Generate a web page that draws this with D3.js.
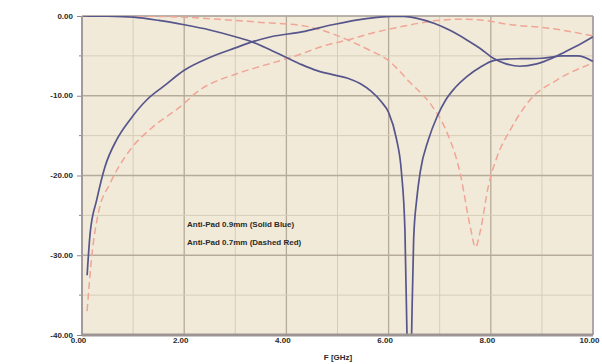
<!DOCTYPE html>
<html>
<head>
<meta charset="utf-8">
<script src="https://cdn.jsdelivr.net/npm/d3@7"></script>
<style>
  body { margin: 0; background: #fff; }
  svg { display: block; font-family: "Liberation Sans", Arial, sans-serif; }
</style>
</head>
<body>
<svg id="chart" width="602" height="364"></svg>
<script>
// values, [F GHz, dB]
const blueS21 = [[0,0],[0.5,-0.03],[1,-0.15],[1.5,-0.55],[2,-1.1],[2.5,-1.75],[3,-2.6],[3.33,-3.25],[3.7,-4.3],[4,-5.2],[4.3,-6.1],[4.6,-6.85],[4.9,-7.35],[5.2,-7.8],[5.45,-8.5],[5.65,-9.4],[5.85,-10.7],[6,-12.1],[6.15,-15.3],[6.25,-19.5],[6.32,-27],[6.36,-40],[6.4,-58],[6.45,-40],[6.49,-28],[6.55,-23],[6.62,-19.5],[6.78,-15.5],[6.95,-12.6],[7.12,-10.5],[7.3,-9],[7.53,-7.6],[7.8,-6.4],[8.05,-5.6],[8.3,-5.4],[8.6,-5.35],[9,-5.3],[9.4,-5],[9.7,-5],[10,-5.7]];
const blueS11 = [[0.1,-32.5],[0.16,-27.2],[0.29,-23],[0.45,-18.9],[0.68,-15.5],[0.94,-13],[1.27,-10.5],[1.6,-8.8],[2,-6.8],[2.5,-5.2],[3,-4],[3.33,-3.25],[3.7,-2.6],[4.3,-2],[4.9,-1.1],[5.6,-0.3],[6.05,-0.05],[6.3,-0.05],[6.56,-0.3],[6.9,-0.95],[7.2,-1.8],[7.53,-3],[7.8,-4.1],[8.05,-5.3],[8.3,-6],[8.57,-6.3],[8.9,-6],[9.2,-5.3],[9.45,-4.5],[9.7,-3.7],[10,-2.6]];
const redS21 = [[0,0],[1,-0.02],[1.5,-0.05],[2,-0.15],[2.5,-0.35],[3,-0.55],[3.5,-0.8],[4,-1],[4.4,-1.3],[4.8,-2],[5.2,-3],[5.6,-4.2],[6,-5.6],[6.4,-8.2],[6.85,-11.3],[7.1,-14],[7.4,-19.7],[7.6,-26.5],[7.7,-29],[7.8,-26.8],[7.95,-21.4],[8.12,-17.7],[8.38,-14.3],[8.77,-10.5],[9.3,-8],[10,-5.9]];
const redS11 = [[0.1,-37],[0.19,-30.2],[0.32,-24.7],[0.55,-21],[0.94,-16.8],[1.39,-13.9],[1.92,-11.4],[2.3,-9.3],[3,-7.3],[3.5,-6.3],[3.93,-5.5],[4.27,-4.8],[4.7,-3.8],[5.2,-3],[5.7,-2.1],[6.2,-1.4],[6.6,-0.9],[7.06,-0.5],[7.5,-0.4],[7.8,-0.5],[8.4,-1.1],[9.1,-1.5],[9.6,-2],[10,-2.5]];

const xTicks = [0, 2, 4, 6, 8, 10];
const yTicks = [0, -10, -20, -30, -40];
const legendLines = ["Anti-Pad 0.9mm (Solid Blue)", "Anti-Pad 0.7mm (Dashed Red)"];

const W = 602, H = 364;
const m = { top: 16, right: 9, bottom: 29, left: 82 };
const fmt = d => d.toFixed(2); // plain hyphen minus like the original

const svg = d3.select("#chart");
const x = d3.scaleLinear().domain([0, 10]).range([m.left, W - m.right]);
const y = d3.scaleLinear().domain([-40, 0]).range([H - m.bottom, m.top]);

svg.append("defs").append("clipPath").attr("id", "plot")
   .append("rect")
   .attr("x", m.left).attr("y", m.top)
   .attr("width", W - m.left - m.right).attr("height", H - m.top - m.bottom);

svg.append("rect")
   .attr("x", m.left).attr("y", m.top)
   .attr("width", W - m.left - m.right).attr("height", H - m.top - m.bottom)
   .attr("fill", "#f2ead8");

// grid, minor every 1 GHz / 5 dB
d3.range(0, 10.01, 1).forEach(v =>
   svg.append("line")
      .attr("x1", x(v)).attr("x2", x(v))
      .attr("y1", m.top).attr("y2", H - m.bottom)
      .attr("stroke", v % 2 === 0 ? "#b5ab98" : "#d6cdb9")
      .attr("stroke-width", v % 2 === 0 ? 1.3 : 1)
);
d3.range(-40, 0.01, 5).forEach(v =>
   svg.append("line")
      .attr("x1", m.left).attr("x2", W - m.right)
      .attr("y1", y(v)).attr("y2", y(v))
      .attr("stroke", v % 10 === 0 ? "#b5ab98" : "#d6cdb9")
      .attr("stroke-width", v % 10 === 0 ? 1.3 : 1)
);

// frame
svg.append("line").attr("x1", m.left).attr("x2", W - m.right).attr("y1", m.top).attr("y2", m.top)
   .attr("stroke", "#aaa4a4").attr("stroke-width", 1.2);
svg.append("line").attr("x1", W - m.right).attr("x2", W - m.right).attr("y1", m.top).attr("y2", H - m.bottom)
   .attr("stroke", "#aaa4a4").attr("stroke-width", 1.8);

const line = d3.line()
   .x(d => x(d[0]))
   .y(d => y(d[1]))
   .curve(d3.curveMonotoneX);

const curves = svg.append("g").attr("clip-path", "url(#plot)");
[redS21, redS11].forEach(s =>
   curves.append("path").datum(s)
      .attr("d", line)
      .attr("fill", "none")
      .attr("stroke", "#f0a596")
      .attr("stroke-width", 1.5)
      .attr("stroke-dasharray", "7,4")
);
[blueS21, blueS11].forEach(s =>
   curves.append("path").datum(s)
      .attr("d", line)
      .attr("fill", "none")
      .attr("stroke", "#56558c")
      .attr("stroke-width", 1.7)
);

// axes
const yAxis = svg.append("g")
   .attr("transform", `translate(${m.left},0)`)
   .call(d3.axisLeft(y).tickValues(yTicks).tickFormat(fmt).tickSize(5).tickPadding(4));
const xAxis = svg.append("g")
   .attr("transform", `translate(0,${H - m.bottom})`)
   .call(d3.axisBottom(x).tickValues(xTicks).tickFormat(fmt).tickSize(0).tickPadding(4));
[yAxis, xAxis].forEach(g => {
   g.select(".domain").remove();
   g.selectAll("text").attr("font-size", 8).attr("font-weight", "bold").attr("fill", "#2a2a2a")
      .attr("font-family", "Liberation Sans, Arial, sans-serif");
   g.selectAll(".tick line").attr("stroke", "#8c8585");
});
xAxis.selectAll("text").attr("dx", -4).attr("dy", "0.55em");
yAxis.selectAll("text").attr("dy", "0.25em");

// minor y ticks
d3.range(-35, 0, 10).forEach(v =>
   svg.append("line")
      .attr("x1", m.left - 3).attr("x2", m.left)
      .attr("y1", y(v)).attr("y2", y(v))
      .attr("stroke", "#8c8585")
);

svg.append("line").attr("x1", m.left).attr("x2", m.left).attr("y1", m.top).attr("y2", H - m.bottom)
   .attr("stroke", "#a39b9b").attr("stroke-width", 2);
svg.append("line").attr("x1", m.left).attr("x2", W - m.right).attr("y1", H - m.bottom).attr("y2", H - m.bottom)
   .attr("stroke", "#9d9494").attr("stroke-width", 3);

svg.append("text")
   .attr("x", 338).attr("y", 360)
   .attr("text-anchor", "middle")
   .attr("font-size", 8).attr("font-weight", "bold").attr("fill", "#2a2a2a")
   .text("F [GHz]");

legendLines.forEach((t, i) =>
   svg.append("text")
      .attr("x", 187).attr("y", 227 + i * 18)
      .attr("font-size", 8).attr("font-weight", "bold").attr("fill", "#2a2a2a")
      .text(t)
);
</script>
</body>
</html>
